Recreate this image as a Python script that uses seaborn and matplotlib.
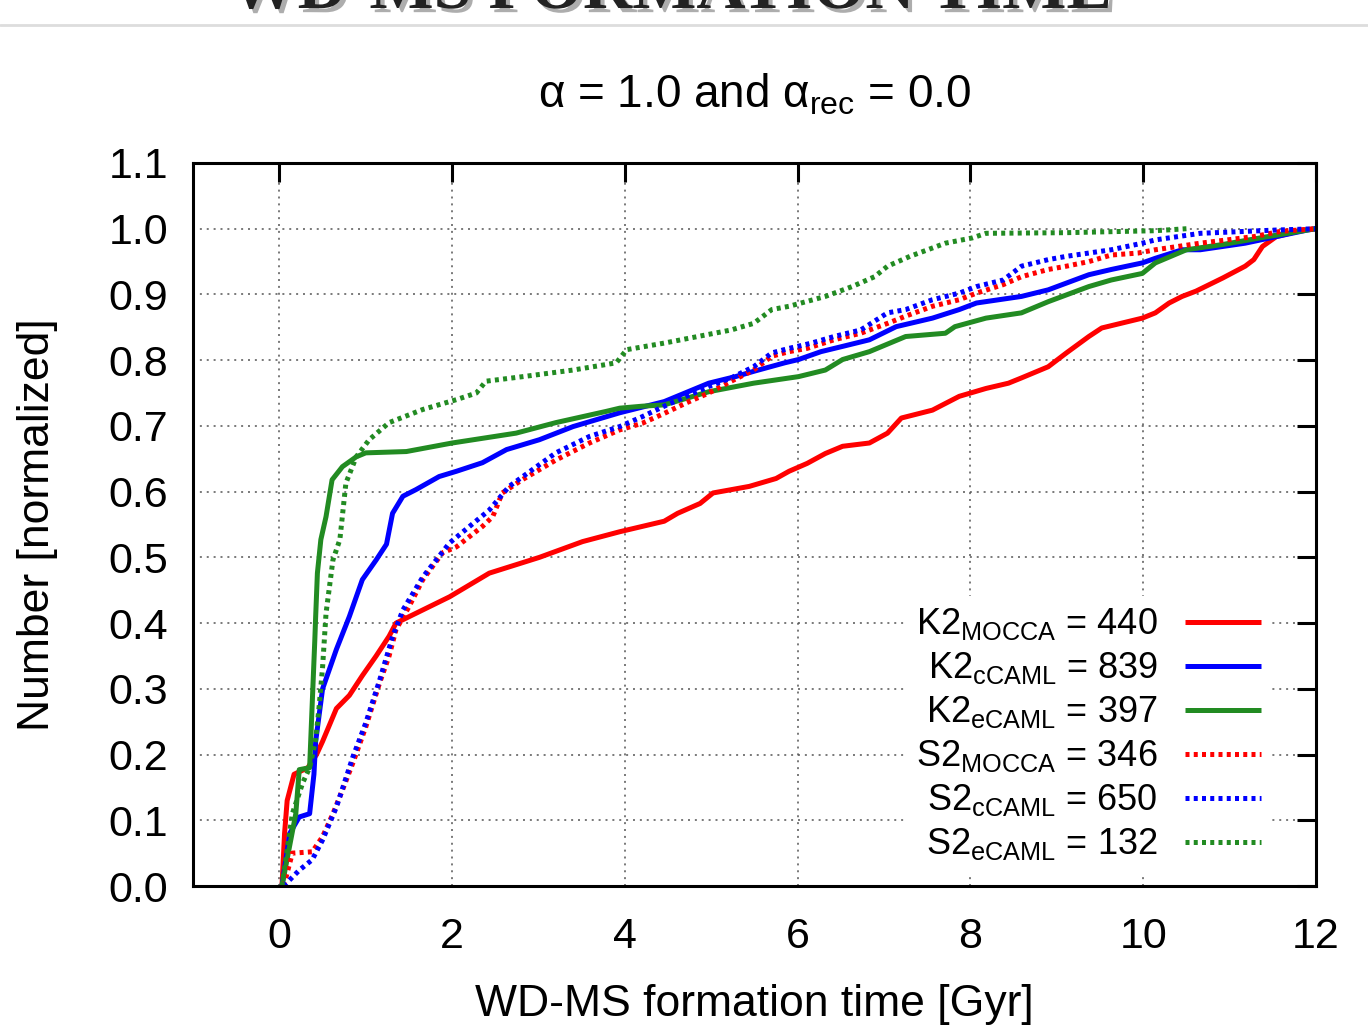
import numpy as np
import pandas as pd
import matplotlib
matplotlib.use("Agg")
import matplotlib.pyplot as plt
import matplotlib.patheffects as pe
from matplotlib.lines import Line2D
import seaborn as sns

# ---------------- data ----------------
k2_mocca_x = [0.03, 0.06, 0.09, 0.17, 0.33, 0.43, 0.50, 0.66, 0.81, 0.96, 1.12, 1.27, 1.35, 1.66, 1.97,
              2.43, 3.01, 3.51, 3.94, 4.455, 4.61, 4.87, 5.02, 5.44, 5.75, 5.90, 6.11, 6.32, 6.52, 6.83,
              7.04, 7.20, 7.56, 7.87, 8.18, 8.44, 8.59, 8.90, 9.11, 9.37, 9.52, 9.99, 10.14, 10.30,
              10.45, 10.61, 10.92, 11.18, 11.28, 11.38, 11.54, 11.85, 12.0]
k2_mocca_y = [0.0, 0.08, 0.13, 0.17, 0.18, 0.20, 0.22, 0.27, 0.29, 0.32, 0.35, 0.38, 0.40, 0.42, 0.44,
              0.476, 0.50, 0.524, 0.539, 0.555, 0.567, 0.582, 0.598, 0.608, 0.620, 0.631, 0.643, 0.658,
              0.669, 0.674, 0.689, 0.712, 0.724, 0.745, 0.757, 0.765, 0.773, 0.790, 0.811, 0.836, 0.849,
              0.864, 0.872, 0.887, 0.897, 0.905, 0.925, 0.943, 0.953, 0.973, 0.988, 0.998, 1.0]

k2_ccaml_x = [0.03, 0.12, 0.23, 0.35, 0.40, 0.42, 0.50, 0.66, 0.81, 0.96, 1.12, 1.24, 1.31, 1.43, 1.58,
              1.85, 2.05, 2.35, 2.63, 3.01, 3.40, 3.94, 4.455, 4.97, 5.28, 5.49, 5.85, 6.01, 6.27, 6.52,
              6.83, 7.14, 7.56, 7.87, 8.07, 8.33, 8.59, 8.90, 9.37, 9.63, 9.99, 10.14, 10.45, 10.66,
              11.18, 11.90, 12.0]
k2_ccaml_y = [0.0, 0.08, 0.105, 0.11, 0.17, 0.22, 0.30, 0.36, 0.41, 0.466, 0.496, 0.52, 0.567, 0.593,
              0.603, 0.623, 0.631, 0.644, 0.664, 0.679, 0.699, 0.720, 0.737, 0.765, 0.775, 0.783, 0.796,
              0.801, 0.813, 0.821, 0.831, 0.851, 0.864, 0.877, 0.887, 0.892, 0.897, 0.907, 0.930, 0.938,
              0.948, 0.955, 0.968, 0.968, 0.978, 0.998, 1.0]

k2_ecaml_x = [0.03, 0.19, 0.23, 0.35, 0.41, 0.42, 0.44, 0.48, 0.54, 0.61, 0.73, 0.89, 1.0, 1.47, 2.0,
              2.74, 3.2, 3.78, 3.94, 4.20, 4.455, 4.97, 5.49, 6.01, 6.32, 6.52, 6.83, 7.25, 7.71, 7.82,
              8.18, 8.59, 8.90, 9.37, 9.63, 9.99, 10.14, 10.50, 10.92, 11.44, 11.9, 12.0]
k2_ecaml_y = [0.0, 0.11, 0.177, 0.18, 0.374, 0.41, 0.476, 0.527, 0.562, 0.618, 0.638, 0.653, 0.659,
              0.661, 0.674, 0.689, 0.705, 0.722, 0.727, 0.730, 0.732, 0.752, 0.765, 0.775, 0.785, 0.801,
              0.813, 0.836, 0.841, 0.851, 0.864, 0.872, 0.889, 0.912, 0.922, 0.932, 0.948, 0.968, 0.976,
              0.988, 0.998, 1.0]

s2_mocca_x = [0.05, 0.15, 0.38, 0.50, 0.62, 0.73, 0.85, 1.0, 1.16, 1.27, 1.35, 1.50, 1.66, 1.89, 2.05,
              2.35, 2.47, 2.58, 2.81, 3.2, 3.59, 3.94, 4.20, 4.455, 4.71, 4.97, 5.23, 5.49, 5.70, 5.90,
              6.11, 6.42, 6.73, 7.04, 7.25, 7.56, 7.87, 8.07, 8.38, 8.59, 8.90, 9.11, 9.37, 9.63, 9.94,
              10.14, 10.66, 11.28, 11.59, 12.0]
s2_mocca_y = [0.0, 0.05, 0.052, 0.075, 0.11, 0.146, 0.187, 0.242, 0.309, 0.35, 0.39, 0.425, 0.466,
              0.507, 0.516, 0.547, 0.562, 0.598, 0.618, 0.648, 0.674, 0.694, 0.704, 0.719, 0.735, 0.750,
              0.768, 0.785, 0.806, 0.813, 0.818, 0.831, 0.841, 0.856, 0.867, 0.882, 0.892, 0.902, 0.915,
              0.927, 0.938, 0.943, 0.950, 0.960, 0.963, 0.968, 0.978, 0.988, 0.996, 1.0]

s2_ccaml_x = [0.05, 0.23, 0.38, 0.50, 0.66, 0.85, 1.0, 1.16, 1.31, 1.43, 1.66, 1.97, 2.43, 2.66, 3.2,
              3.59, 3.94, 4.20, 4.455, 4.71, 4.97, 5.23, 5.49, 5.70, 5.90, 6.16, 6.42, 6.73, 7.04, 7.25,
              7.56, 7.87, 8.07, 8.38, 8.59, 8.90, 9.11, 9.63, 9.99, 10.14, 10.66, 11.54, 12.0]
s2_ccaml_y = [0.0, 0.024, 0.04, 0.07, 0.12, 0.196, 0.248, 0.313, 0.379, 0.42, 0.47, 0.522, 0.572,
              0.608, 0.659, 0.684, 0.699, 0.714, 0.730, 0.745, 0.760, 0.773, 0.790, 0.811, 0.818, 0.826,
              0.836, 0.846, 0.872, 0.877, 0.892, 0.902, 0.912, 0.922, 0.943, 0.953, 0.958, 0.968, 0.978,
              0.983, 0.993, 0.998, 1.0]

s2_ecaml_x = [0.03, 0.15, 0.27, 0.35, 0.42, 0.46, 0.50, 0.54, 0.62, 0.70, 0.77, 0.89, 1.04, 1.27, 1.66,
              2.05, 2.28, 2.39, 2.82, 3.40, 3.90, 4.02, 4.455, 5.23, 5.49, 5.70, 5.90, 6.32, 6.63, 6.89,
              7.04, 7.30, 7.71, 8.02, 8.18, 9.11, 10.14, 10.50]
s2_ecaml_y = [0.0, 0.11, 0.157, 0.18, 0.222, 0.273, 0.333, 0.415, 0.496, 0.527, 0.613, 0.653, 0.679,
              0.705, 0.725, 0.740, 0.750, 0.768, 0.775, 0.785, 0.796, 0.816, 0.826, 0.846, 0.856, 0.877,
              0.882, 0.897, 0.912, 0.927, 0.943, 0.958, 0.978, 0.986, 0.993, 0.994, 0.997, 1.0]

series_names = ["K2_MOCCA", "K2_cCAML", "K2_eCAML", "S2_MOCCA", "S2_cCAML", "S2_eCAML"]
series_labels = [r"K2$_{\mathrm{MOCCA}}$ = 440", r"K2$_{\mathrm{cCAML}}$ = 839",
                 r"K2$_{\mathrm{eCAML}}$ = 397", r"S2$_{\mathrm{MOCCA}}$ = 346",
                 r"S2$_{\mathrm{cCAML}}$ = 650", r"S2$_{\mathrm{eCAML}}$ = 132"]
series_x = [k2_mocca_x, k2_ccaml_x, k2_ecaml_x, s2_mocca_x, s2_ccaml_x, s2_ecaml_x]
series_y = [k2_mocca_y, k2_ccaml_y, k2_ecaml_y, s2_mocca_y, s2_ccaml_y, s2_ecaml_y]

x_ticks = [0, 2, 4, 6, 8, 10, 12]
y_ticks = [0.0, 0.1, 0.2, 0.3, 0.4, 0.5, 0.6, 0.7, 0.8, 0.9, 1.0, 1.1]

title_text = r"$\alpha$ = 1.0 and $\alpha_{\mathrm{rec}}$ = 0.0"
x_label = "WD-MS formation time [Gyr]"
y_label = "Number [normalized]"
header_text = "WD-MS FORMATION TIME"

# ---------------- style ----------------
sns.set_style("white")
plt.rcParams["font.family"] = ["Liberation Sans", "DejaVu Sans"]
plt.rcParams["mathtext.fontset"] = "custom"
plt.rcParams["mathtext.rm"] = "Liberation Sans"
plt.rcParams["mathtext.it"] = "Liberation Sans"
plt.rcParams["mathtext.bf"] = "Liberation Sans:bold"
plt.rcParams["text.color"] = "black"
plt.rcParams["axes.labelcolor"] = "black"
plt.rcParams["xtick.color"] = "black"
plt.rcParams["ytick.color"] = "black"

colors = ["#ff0000", "#0000ff", "#228b22", "#ff0000", "#0000ff", "#228b22"]
styles = ["-", "-", "-", (0, (0.8, 0.85)), (0, (0.8, 0.85)), (0, (0.8, 0.85))]

fig = plt.figure(figsize=(13.68, 10.32), dpi=100)
ax = fig.add_axes([193 / 1368, 1 - 886 / 1032, (1316 - 193) / 1368, (886 - 163) / 1032])

for name, lab, xs, ys, c in zip(series_names, series_labels, series_x, series_y, colors):
    df = pd.DataFrame({"x": xs, "y": ys})
    sns.lineplot(data=df, x="x", y="y", ax=ax, color=c, linewidth=3.6, label=lab,
                 estimator=None, sort=False)

for ln, ls in zip(ax.get_lines(), styles):
    ln.set_linestyle(ls)
    ln.set_dash_capstyle("butt")
    ln.set_solid_capstyle("butt")
    ln.set_solid_joinstyle("round")

ax.set_xlim(-1, 12)
ax.set_ylim(0, 1.1)
ax.set_xticks(x_ticks)
ax.set_yticks(y_ticks)
ax.set_xticklabels([str(t) for t in x_ticks])
ax.set_yticklabels([f"{t:.1f}" for t in y_ticks])

ax.grid(True, color="#555555", linestyle=(0, (1.3, 3.2)), linewidth=1.1)
ax.set_axisbelow(True)

for sp in ax.spines.values():
    sp.set_visible(True)
    sp.set_color("black")
    sp.set_linewidth(2.2)

ax.tick_params(axis="both", which="major", direction="in", length=14, width=2.2,
               top=True, right=True, labelsize=31, colors="black")
ax.tick_params(axis="x", pad=22)
ax.tick_params(axis="y", pad=18)

ax.set_xlabel(x_label, fontsize=32, labelpad=20)
ax.set_ylabel(y_label, fontsize=32, labelpad=36)
ax.set_title(title_text, fontsize=33, pad=40)

leg = ax.legend(loc="lower right", bbox_to_anchor=(0.972, 0.0), fontsize=26, markerfirst=False,
                frameon=True, facecolor="white", edgecolor="white", framealpha=1.0,
                fancybox=False, handlelength=2.1, handletextpad=0.75, labelspacing=0.22,
                borderpad=0.3, borderaxespad=0.36)
leg.get_frame().set_linewidth(0)

# partially visible slide header (cut off at the top, as in the reference) and separator line
fig.text(0.49, 1 - 8 / 1032, header_text, fontsize=49, fontweight="bold",
         family="Liberation Serif", ha="center", va="baseline", color="#222222",
         path_effects=[pe.SimplePatchShadow(offset=(3, -3), shadow_rgbFace="#999999", alpha=0.8),
                       pe.Normal()])
fig.add_artist(Line2D([0, 1], [1 - 25 / 1032, 1 - 25 / 1032], transform=fig.transFigure,
                      color="#dddddd", linewidth=2))

fig.savefig("out.png", dpi=100, facecolor="white")
